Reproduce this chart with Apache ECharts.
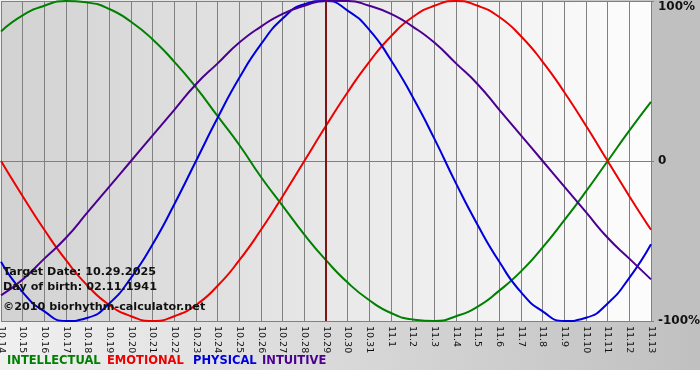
<!DOCTYPE html>
<html>
<head>
<meta charset="utf-8">
<script src="https://cdn.jsdelivr.net/npm/echarts@6/dist/echarts.min.js"></script>
<style>html,body{margin:0;padding:0;background:#fff}#c{width:700px;height:380px}</style>
</head>
<body>
<div id="c"></div>
<script>
const days = ['10.14','10.15','10.16','10.17','10.18','10.19','10.20','10.21','10.22','10.23','10.24','10.25','10.26','10.27','10.28','10.29','10.30','10.31','11.1','11.2','11.3','11.4','11.5','11.6','11.7','11.8','11.9','11.10','11.11','11.12','11.13'];
const intellectual = [81,91,97,100,99,95,87,76,62,46,28,10,-10,-28,-46,-62,-76,-87,-95,-99,-100,-97,-91,-81,-69,-54,-37,-19,0,19,37];
const emotional = [0,-22,-43,-62,-78,-90,-97,-100,-97,-90,-78,-62,-43,-22,0,22,43,62,78,90,97,100,97,90,78,62,43,22,0,-22,-43];
const physical = [-63,-82,-94,-100,-98,-89,-73,-52,-27,0,27,52,73,89,98,100,94,82,63,40,14,-14,-40,-63,-82,-94,-100,-98,-89,-73,-52];
const intuitive = [-84,-74,-61,-48,-32,-16,0,16,32,48,61,74,84,92,97,100,100,97,92,84,74,61,48,32,16,0,-16,-32,-48,-61,-74];
const seriesNames = ['INTELLECTUAL','EMOTIONAL','PHYSICAL','INTUITIVE'];
const seriesColors = ['#008000','#ee0000','#0000dd','#4b0091'];
const targetDay = '10.29';
const infoLines = ['Target Date: 10.29.2025','Day of birth: 02.11.1941','\u00a92010 biorhythm-calculator.net'];

const chart = echarts.init(document.getElementById('c'));
const values = [intellectual, emotional, physical, intuitive];
const FONT = '"DejaVu Sans", Verdana, sans-serif';
const legendX = [7, 107, 193, 262];
const infoTop = [267, 282, 302];

const series = values.map((v, i) => ({
  name: seriesNames[i],
  type: 'line',
  data: v,
  smooth: 0.55,
  showSymbol: false,
  symbol: 'none',
  z: 3 + i,
  lineStyle: { color: seriesColors[i], width: 2 },
  itemStyle: { color: seriesColors[i] },
  animation: false
}));
series[0].markLine = {
  silent: true,
  symbol: 'none',
  label: { show: false },
  lineStyle: { color: '#7d1515', width: 2, type: 'solid' },
  data: [{ xAxis: targetDay }],
  animation: false
};

const graphics = [
  { type: 'rect', z: -100, silent: true, shape: { x: 0, y: 0, width: 700, height: 370 },
    style: { fill: new echarts.graphic.LinearGradient(0, 0, 1, 0, [{offset: 0, color: '#f0f0f0'}, {offset: 1, color: '#c0c0c0'}]) } },
  { type: 'rect', z: -90, silent: true, shape: { x: 651, y: 0, width: 49, height: 321 }, style: { fill: '#c0c0c0' } }
];
infoLines.forEach((t, i) => graphics.push({
  type: 'text', left: 3, top: infoTop[i], z: 50,
  style: { text: t, font: 'bold 11.2px ' + FONT, fill: '#111' }
}));
seriesNames.forEach((n, i) => graphics.push({
  type: 'text', left: legendX[i], top: 355, z: 50,
  style: { text: n, font: 'bold 11.5px ' + FONT, fill: seriesColors[i] }
}));

chart.setOption({
  animation: false,
  backgroundColor: '#ffffff',
  graphic: graphics,
  grid: {
    left: 1, right: 49, top: 1, bottom: 59,
    outerBoundsMode: 'none',
    containLabel: false,
    show: true, borderWidth: 0,
    backgroundColor: new echarts.graphic.LinearGradient(0, 0, 1, 0, [{offset: 0, color: '#d2d2d2'}, {offset: 1, color: '#fdfdfd'}])
  },
  xAxis: {
    type: 'category',
    data: days,
    boundaryGap: false,
    axisLine: { show: true, lineStyle: { color: '#808080', width: 1 } },
    axisTick: { show: true, length: 4, interval: 0, lineStyle: { color: '#808080' } },
    splitLine: { show: true, interval: 0, lineStyle: { color: '#808080', width: 1 } },
    axisLabel: { interval: 0, rotate: -90, margin: 5, color: '#111', fontSize: 9.5, fontFamily: FONT }
  },
  yAxis: {
    type: 'value',
    position: 'right',
    min: -100, max: 100, interval: 100,
    axisLine: { show: false },
    axisTick: { show: true, length: 3, lineStyle: { color: '#808080' } },
    splitLine: { show: true, lineStyle: { color: '#808080', width: 1 } },
    axisLabel: {
      margin: 7, color: '#111', fontSize: 12, fontWeight: 'bold', fontFamily: FONT,
      verticalAlignMaxLabel: 'top',
      formatter: v => v === 0 ? '0' : v + '%'
    }
  },
  series: series
});
</script>
</body>
</html>
